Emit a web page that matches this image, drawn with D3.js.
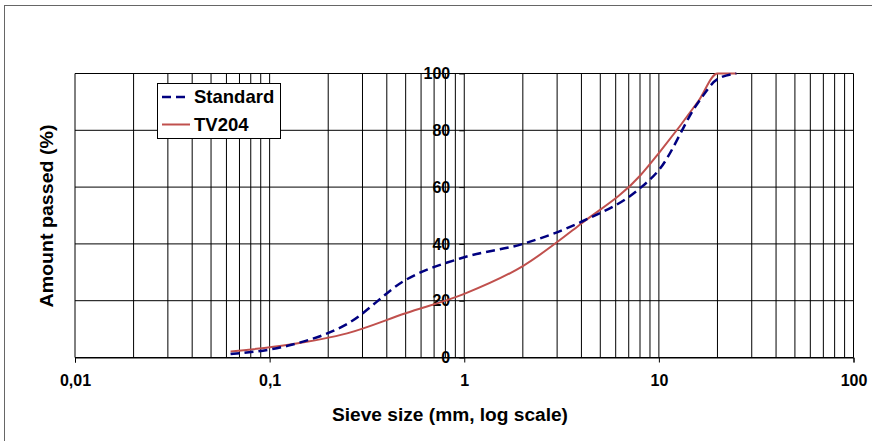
<!DOCTYPE html>
<html>
<head>
<meta charset="utf-8">
<script src="https://cdn.jsdelivr.net/npm/d3@7"></script>
<style>
  body { margin: 0; background: #fff; }
  text { font-family: "Liberation Sans", Arial, sans-serif; font-weight: bold; fill: #000; }
</style>
</head>
<body>
<div id="chart"></div>
<script>
// sieve sizes (mm) and amount passed (%)
var sizes = [0.063, 0.125, 0.25, 0.5, 1, 2, 4, 8, 10, 16, 20, 25];
var standard = [1.2, 4.2, 11.8, 27.3, 35.3, 40, 47.8, 59.6, 66, 90, 98, 100];
var tv204 = [2.1, 4.5, 8.5, 15.6, 22.4, 32.2, 47.2, 64, 72, 90.4, 100, 100];

var xTicks = [0.01, 0.1, 1, 10, 100];
var xTickLabels = ["0,01", "0,1", "1", "10", "100"];
var yTicks = [0, 20, 40, 60, 80, 100];

var width = 872,
height = 441;

var svg = d3.select("#chart").append("svg")
	.attr("width", width)
	.attr("height", height);

// outer chart frame
svg.append("rect")
	.attr("x", 4.5).attr("y", 5.5)
	.attr("width", width).attr("height", height)
	.attr("fill", "none")
	.attr("stroke", "#666");

var x = d3.scaleLog()
	.domain([0.01, 100])
	.range([75, 853.5]);

var y = d3.scaleLinear()
	.domain([0, 100])
	.range([357.5, 73.5]);

//GRIDLINES - every 1..9 of each decade
var minor = [];
for (var p = -2; p < 2; p++) {
	for (var k = 1; k < 10; k++) { minor.push(k * Math.pow(10, p)); }
}
minor.push(100);

svg.append("g")
	.selectAll("line")
	.data(minor)
	.enter().append("line")
	.attr("x1", function(d) { return x(d); })
	.attr("x2", function(d) { return x(d); })
	.attr("y1", y(0))
	.attr("y2", y(100))
	.attr("stroke", "#000")
	.attr("stroke-width", 1);

svg.append("g")
	.selectAll("line")
	.data(yTicks)
	.enter().append("line")
	.attr("x1", x(0.01))
	.attr("x2", x(100))
	.attr("y1", function(d) { return y(d); })
	.attr("y2", function(d) { return y(d); })
	.attr("stroke", "#000")
	.attr("stroke-width", 1);

//AXES
var xAxis = svg.append("g")
	.attr("transform", "translate(0," + y(0) + ")")
	.call(d3.axisBottom(x)
		.tickValues(xTicks)
		.tickSize(5)
		.tickPadding(12)
		.tickFormat(function(d, i) { return xTickLabels[i]; }));

xAxis.select(".domain").attr("stroke", "#000");
xAxis.selectAll("text").style("font-size", "16px");

var yAxis = svg.append("g")
	.attr("transform", "translate(" + x(1) + ",0)")
	.call(d3.axisLeft(y)
		.tickValues(yTicks)
		.tickSize(5)
		.tickPadding(9));

yAxis.select(".domain").remove();
yAxis.selectAll("text").style("font-size", "16px");

//SERIES
var line = d3.line()
	.x(function(d) { return x(d[0]); })
	.y(function(d) { return y(d[1]); })
	.curve(d3.curveMonotoneX);

svg.append("path")
	.datum(d3.zip(sizes, tv204))
	.attr("d", line)
	.attr("fill", "none")
	.attr("stroke", "#c0504d")
	.attr("stroke-width", 2);

svg.append("path")
	.datum(d3.zip(sizes, standard))
	.attr("d", line)
	.attr("fill", "none")
	.attr("stroke", "#000080")
	.attr("stroke-width", 2.5)
	.attr("stroke-dasharray", "9,5");

//AXIS TITLES
svg.append("text")
	.text("Sieve size (mm, log scale)")
	.attr("x", 450)
	.attr("y", 421)
	.attr("text-anchor", "middle")
	.attr("textLength", 236)
	.attr("lengthAdjust", "spacingAndGlyphs")
	.style("font-size", "18px");

svg.append("text")
	.text("Amount passed (%)")
	.attr("transform", "translate(53,216) rotate(-90)")
	.attr("text-anchor", "middle")
	.attr("textLength", 183)
	.attr("lengthAdjust", "spacingAndGlyphs")
	.style("font-size", "18px");

//LEGEND
var legend = svg.append("g");

legend.append("rect")
	.attr("x", 157.5).attr("y", 83.5)
	.attr("width", 123).attr("height", 55)
	.attr("fill", "#fff")
	.attr("stroke", "#000");

var legendItems = [
	{ name: "Standard", color: "#000080", dash: "9,5", width: 2.5 },
	{ name: "TV204", color: "#c0504d", dash: null, width: 2 }
];

legendItems.forEach(function(d, i) {
	var ly = 97 + i * 27.5;
	legend.append("line")
		.attr("x1", 162).attr("x2", 190)
		.attr("y1", ly).attr("y2", ly)
		.attr("stroke", d.color)
		.attr("stroke-width", d.width)
		.attr("stroke-dasharray", d.dash);
	legend.append("text")
		.text(d.name)
		.attr("x", 194)
		.attr("y", ly + 6)
		.style("font-size", "18.5px");
});
</script>
</body>
</html>
